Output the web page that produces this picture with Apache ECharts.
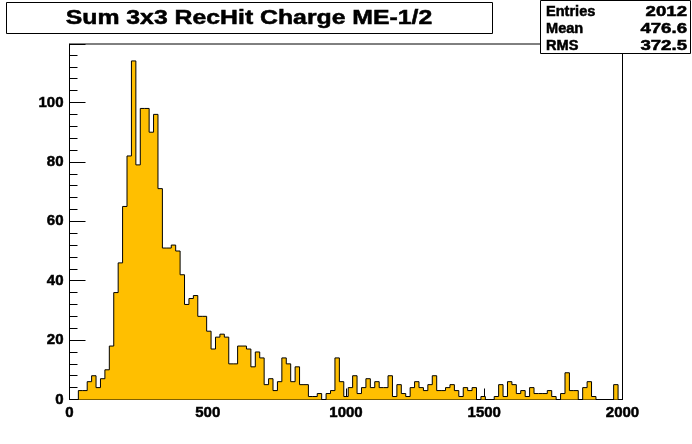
<!DOCTYPE html>
<html>
<head>
<meta charset="utf-8">
<script src="https://cdn.jsdelivr.net/npm/echarts@6/dist/echarts.min.js"></script>
<style>html,body{margin:0;padding:0;background:#fff}#c{width:692px;height:444px}</style>
</head>
<body>
<div id="c"></div>
<script>
// Histogram: 125 bins of width 16 from 0 to 2000
var xMin = 0;
var binWidth = 16;
var counts = [
  0,0,3,3,6,8,4,7,10,18,
  36,46,65,82,114,79,98,98,90,96,
  71,51,51,52,50,42,32,34,35,28,
  28,23,17,21,22,21,12,12,18,18,
  17,11,16,14,5,7,3,6,14,12,
  6,11,5,5,1,1,2,0,2,3,
  14,6,1,4,8,2,4,7,4,6,
  4,4,8,1,5,2,1,4,6,4,
  3,5,8,3,3,4,5,3,1,4,
  3,4,0,1,0,0,1,5,1,6,
  5,2,3,1,4,2,2,2,3,1,
  0,2,9,3,3,0,4,6,1,0,
  0,0,0,5,0
];
var xTicks = [0, 500, 1000, 1500, 2000];
var yTicks = [0, 20, 40, 60, 80, 100];
var titleText = 'Sum 3x3 RecHit Charge ME-1/2';
var statLabels = ['Entries', 'Mean', 'RMS'];
var statValues = ['2012', '476.6', '372.5'];

var steps = counts.map(function (v, i) { return [xMin + i * binWidth, v]; });
steps.push([xMin + counts.length * binWidth, counts[counts.length - 1]]);
var yMax = Math.max.apply(null, counts) * 1.05;

var chart = echarts.init(document.getElementById('c'), null, {renderer: 'canvas'});
var FONT = 'Liberation Sans';
var EMB = {textBorderColor: '#000', textBorderWidth: 0.5};
function txt(o) { o.style.stroke = '#000'; o.style.lineWidth = 0.5; return o; }
var graphics = [
  {type: 'rect', shape: {x: 6.5, y: 2.5, width: 486, height: 31}, style: {fill: '#fff', stroke: '#000', lineWidth: 1}, z: 10},
  txt({type: 'text', x: 249, y: 18.5, scaleX: 1.24, z: 11,
    style: {text: titleText, font: 'bold 20px "Liberation Sans"', fill: '#000', textAlign: 'center', textVerticalAlign: 'middle'}}),
  {type: 'rect', shape: {x: 540.5, y: 0.5, width: 150, height: 53}, style: {fill: '#fff', stroke: '#000', lineWidth: 1}, z: 10}
];
statLabels.forEach(function (s, i) {
  var cy = [12.5, 29.5, 46.5][i];
  graphics.push(txt({type: 'text', x: 546, y: cy, scaleX: 1.04, z: 11,
    style: {text: s, font: 'bold 14px "Liberation Sans"', fill: '#000', textAlign: 'left', textVerticalAlign: 'middle'}}));
  graphics.push(txt({type: 'text', x: 687, y: cy, scaleX: 1.33, z: 11,
    style: {text: statValues[i], font: 'bold 14px "Liberation Sans"', fill: '#000', textAlign: 'right', textVerticalAlign: 'middle'}}));
});

chart.setOption({
  animation: false,
  backgroundColor: '#fff',
  grid: {left: 69.5, right: 69.5, top: 44, bottom: 44.5, show: true, borderColor: '#000', borderWidth: 1, backgroundColor: 'transparent'},
  xAxis: {
    type: 'value', min: xTicks[0], max: xTicks[xTicks.length - 1], interval: 500,
    axisLine: {show: true, onZero: false, lineStyle: {color: '#000', width: 1}},
    axisTick: {show: true, inside: true, length: 11, lineStyle: {color: '#000'}},
    minorTick: {show: false},
    splitLine: {show: false},
    axisLabel: Object.assign({color: '#000', fontFamily: FONT, fontWeight: 'bold', fontSize: 15, margin: 6,
      formatter: function (v) { return String(v); }}, EMB)
  },
  yAxis: {
    type: 'value', min: yTicks[0], max: yMax, interval: 20,
    axisLine: {show: true, onZero: false, lineStyle: {color: '#000', width: 1}},
    axisTick: {show: true, inside: true, length: 16, lineStyle: {color: '#000'}},
    minorTick: {show: true, splitNumber: 5, length: 8, lineStyle: {color: '#000'}},
    splitLine: {show: false},
    axisLabel: Object.assign({color: '#000', fontFamily: FONT, fontWeight: 'bold', fontSize: 15, margin: 6, showMaxLabel: false,
      formatter: function (v) { return yTicks.indexOf(v) >= 0 ? String(v) : ''; }}, EMB)
  },
  series: [{
    type: 'line', step: 'end', data: steps, symbol: 'none',
    lineStyle: {color: '#000', width: 1},
    areaStyle: {color: '#ffbf00', opacity: 1},
    z: 2
  }],
  graphic: graphics
});
</script>
</body>
</html>
